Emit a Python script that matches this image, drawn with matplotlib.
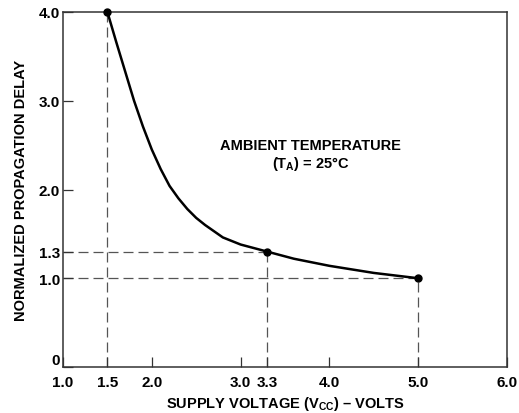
import matplotlib
matplotlib.use('Agg')
from matplotlib import pyplot as plt

# 曲线上读出的点 (Vcc, 归一化延迟)
vcc = [1.5, 1.6, 1.7, 1.8, 1.9, 2.0, 2.1, 2.2, 2.3, 2.4, 2.5, 2.6, 2.8, 3.0, 3.3, 3.6, 4.0, 4.5, 5.0]
delay = [4.0, 3.66, 3.33, 3.0, 2.71, 2.45, 2.23, 2.04, 1.90, 1.78, 1.68, 1.60, 1.46, 1.38, 1.3, 1.22, 1.14, 1.06, 1.0]

# 标记点
mark_x = [1.5, 3.3, 5.0]
mark_y = [4.0, 1.3, 1.0]

x_ticks = [1.0, 1.5, 2.0, 3.0, 3.3, 4.0, 5.0, 6.0]
x_labels = ['1.0', '1.5', '2.0', '3.0', '3.3', '4.0', '5.0', '6.0']
y_ticks = [0, 1.0, 1.3, 2.0, 3.0, 4.0]
y_labels = ['0', '1.0', '1.3', '2.0', '3.0', '4.0']

plt.rcParams['font.family'] = ['Liberation Sans', 'DejaVu Sans']
plt.rcParams['font.weight'] = 'bold'
plt.rcParams['mathtext.fontset'] = 'custom'
plt.rcParams['mathtext.rm'] = 'Liberation Sans:bold'
plt.rcParams['mathtext.default'] = 'rm'

fig = plt.figure(figsize=(5.19, 4.14), dpi=100)
ax = fig.add_axes([0.1214, 0.1111, 0.8555, 0.8575])

dash_color = '#555555'
for mx, my in zip(mark_x, mark_y):
    # 竖虚线到x轴
    ax.plot([mx, mx], [0, my], color=dash_color, linewidth=0.9, dashes=(8, 4), zorder=1)
    # 横虚线到y轴
    if mx != 1.5:
        ax.plot([1.0, mx], [my, my], color=dash_color, linewidth=0.9, dashes=(8, 4), zorder=1)

ax.plot(vcc, delay, color='black', linewidth=1.8, zorder=2, solid_joinstyle='round')
ax.plot(mark_x, mark_y, 'o', color='black', markersize=5, zorder=3, clip_on=False)

ax.set_xlim(1.0, 6.0)
ax.set_ylim(0, 4.0)
ax.set_xticks(x_ticks)
ax.set_xticklabels(x_labels)
ax.set_yticks(y_ticks)
ax.set_yticklabels(y_labels)
ax.tick_params(direction='in', length=7, width=0.9, labelsize=11, color='#333333')
ax.tick_params(axis='x', pad=6)
ax.tick_params(axis='y', pad=2)
# "0" 稍微上移，避免与 "1.0" 重叠
ax.get_yticklabels()[0].set_verticalalignment('bottom')
for s in ax.spines.values():
    s.set_linewidth(1.1)
    s.set_color('#333333')

ax.set_xlabel('SUPPLY VOLTAGE (V$_{CC}$) – VOLTS', fontsize=10.5, fontweight='bold', labelpad=3)
ax.set_ylabel('NORMALIZED PROPAGATION DELAY', fontsize=10.5, fontweight='bold', labelpad=8)

ax.text(3.79, 2.50, 'AMBIENT TEMPERATURE', ha='center', va='center', fontsize=10.5, fontweight='bold')
ax.text(3.79, 2.30, '(T$_{A}$) = 25°C', ha='center', va='center', fontsize=10.5, fontweight='bold')

plt.savefig('out.png', dpi=100)
